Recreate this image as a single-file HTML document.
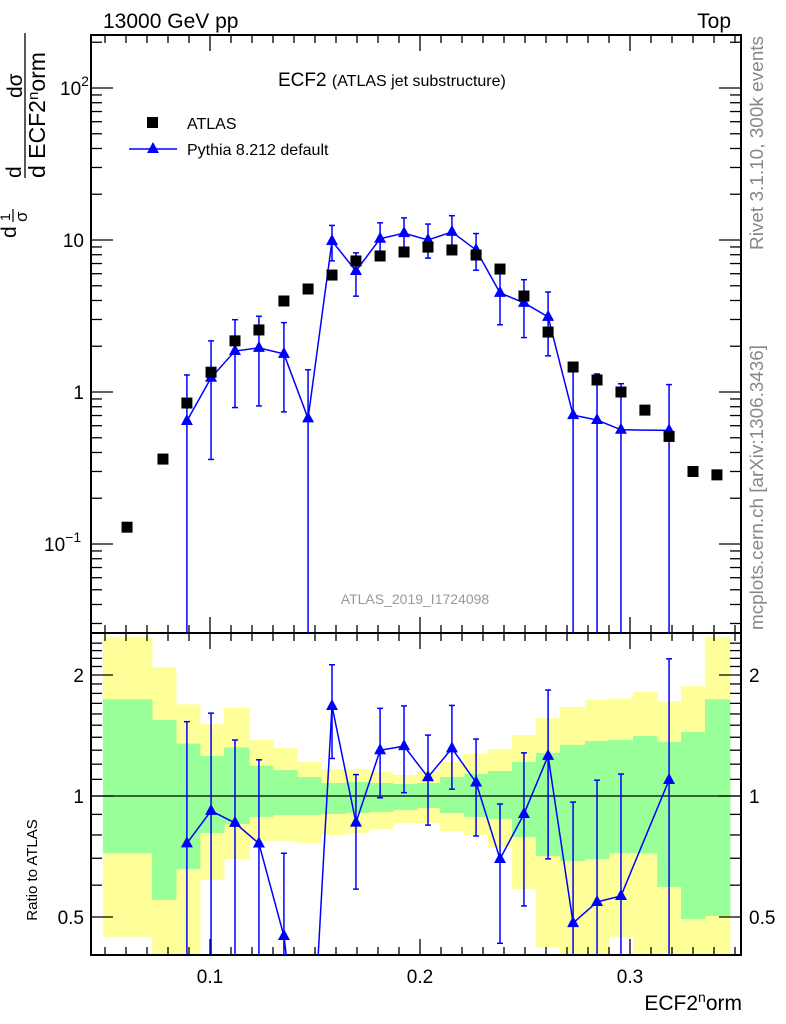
<!DOCTYPE html>
<html><head><meta charset="utf-8"><style>
html,body{margin:0;padding:0;background:#fff;overflow:hidden;width:786px;height:1024px;}
svg{display:block;font-family:"Liberation Sans",sans-serif;}
</style></head><body>
<svg id="chart" width="786" height="1024" viewBox="0 0 786 1024"></svg>
<script>
const binEdges=[0.0490,0.0724,0.0838,0.0952,0.1067,0.1186,0.1300,0.1414,0.1529,0.1643,0.1757,0.1871,0.1986,0.2095,0.2210,0.2324,0.2438,0.2552,0.2667,0.2786,0.2900,0.3014,0.3129,0.3243,0.3357,0.3476];
const atlasX=[0.0605,0.0776,0.0890,0.1005,0.1119,0.1233,0.1352,0.1467,0.1581,0.1695,0.1810,0.1924,0.2038,0.2152,0.2267,0.2381,0.2495,0.2610,0.2729,0.2843,0.2957,0.3071,0.3186,0.3300,0.3414];
const atlasY=[0.129,0.362,0.846,1.35,2.17,2.56,3.97,4.76,5.88,7.28,7.85,8.34,8.98,8.6,7.96,6.44,4.28,2.48,1.46,1.2,1.0,0.76,0.51,0.30,0.285];
const pythiaY=[null,null,0.645,1.24,1.86,1.95,1.78,0.67,9.85,6.25,10.2,11.1,10.0,11.3,8.6,4.49,3.86,3.12,0.705,0.654,0.564,null,0.559,null,null];
const pythiaErrUp=[0,0,0.65,0.93,1.13,1.2,1.08,0.73,2.62,1.98,2.77,2.87,2.73,3.15,2.43,1.66,1.62,1.43,0.705,0.66,0.57,0,0.56,0,0];
const pythiaErrDn=[0,0,0.645,0.88,1.07,1.14,1.04,0.67,2.56,1.98,2.43,2.6,2.4,2.36,2.27,1.72,1.58,1.39,0.705,0.654,0.564,0,0.559,0,0];
const bandYellowUp=[2.49,2.09,1.69,1.51,1.655,1.378,1.316,1.215,1.167,1.167,1.147,1.128,1.154,1.215,1.272,1.309,1.418,1.563,1.664,1.733,1.75,1.815,1.723,1.877,2.49];
const bandGreenUp=[1.74,1.545,1.35,1.257,1.32,1.188,1.16,1.115,1.077,1.083,1.077,1.071,1.077,1.115,1.134,1.154,1.215,1.28,1.34,1.37,1.378,1.41,1.362,1.443,1.74];
const bandGreenDn=[0.72,0.551,0.658,0.809,0.852,0.887,0.897,0.897,0.902,0.907,0.912,0.923,0.934,0.907,0.887,0.877,0.79,0.709,0.689,0.697,0.72,0.72,0.594,0.494,0.503];
const bandYellowDn=[0.446,0.3,0.3,0.618,0.697,0.773,0.773,0.764,0.8,0.809,0.828,0.857,0.857,0.818,0.8,0.747,0.587,0.42,0.3,0.3,0.446,0.3,0.3,0.3,0.3];
const xTickLabels=["0.1","0.2","0.3"];
const xTickVals=[0.1,0.2,0.3];

const NS="http://www.w3.org/2000/svg";
const svg=document.getElementById('chart');
const L=91,R=741,T1=35,B1=633,T2=633,B2=955;
const X=v=>v*2100;
const Ym=v=>392-152*Math.log10(v);
const Yr=v=>796-121*Math.log2(v);
function el(tag,attrs,parent){const e=document.createElementNS(NS,tag);for(const k in attrs)e.setAttribute(k,attrs[k]);(parent||svg).appendChild(e);return e;}
const defs=el('defs',{});
const c1=el('clipPath',{id:'c1'},defs);el('rect',{x:L,y:T1,width:R-L,height:B1-T1},c1);
const c2=el('clipPath',{id:'c2'},defs);el('rect',{x:L,y:T2,width:R-L,height:B2-T2},c2);

// ratio bands
const gBand=el('g',{'clip-path':'url(#c2)'});


for(let i=0;i<bandYellowUp.length;i++){
  const x0=X(binEdges[i]),x1=X(binEdges[i+1]);
  const ry=el('rect',{x:x0,y:Yr(bandYellowUp[i]),width:x1-x0+0.5,height:Yr(bandYellowDn[i])-Yr(bandYellowUp[i]),fill:'#ffff99'},gBand);
  
  
}
for(let i=0;i<bandGreenUp.length;i++){
  const x0=X(binEdges[i]),x1=X(binEdges[i+1]);
  const rg=el('rect',{x:x0,y:Yr(bandGreenUp[i]),width:x1-x0+0.5,height:Yr(bandGreenDn[i])-Yr(bandGreenUp[i]),fill:'#99ff99'},gBand);
  
  
}
el('line',{x1:L,x2:R,y1:Yr(1),y2:Yr(1),stroke:'#000','stroke-width':1.3});

// frames
const f1=el('rect',{x:L,y:T1,width:R-L,height:B1-T1,fill:'none',stroke:'#000','stroke-width':2});

const f2=el('rect',{x:L,y:T2,width:R-L,height:B2-T2,fill:'none',stroke:'#000','stroke-width':2});


// x ticks
for(let k=5;k<=35;k++){
  const v=k/100,x=X(v);if(x<L||x>R)continue;
  const big=(k%10===0);const len=big?16:8;
  [[T1,1],[B1,-1],[T2,1],[B2,-1]].forEach(([y,d])=>el('line',{x1:x,x2:x,y1:y,y2:y+d*len,stroke:'#000','stroke-width':1.3}));
}
xTickVals.forEach((v,i)=>{const t=el('text',{x:X(v),y:983,'font-size':19,'text-anchor':'middle'});t.textContent=xTickLabels[i];
});
const xt=el('text',{x:742,y:1010,'font-size':21,'text-anchor':'end'});xt.innerHTML='ECF2<tspan dy="-8" font-size="14">n</tspan><tspan dy="8">orm</tspan>';


// main y ticks (log)
for(let d=-2;d<=2;d++){for(let m=1;m<=9;m++){const v=m*Math.pow(10,d);const y=Ym(v);if(y<T1||y>B1)continue;
 const len=m===1?22:11;el('line',{x1:L,x2:L+len,y1:y,y2:y,stroke:'#000','stroke-width':1.3});el('line',{x1:R,x2:R-len,y1:y,y2:y,stroke:'#000','stroke-width':1.3});}}
[[100,'10<tspan dy="-9" font-size="14">2</tspan>'],[10,'10'],[1,'1'],[0.1,'10<tspan dy="-9" font-size="14">−1</tspan>']].forEach(([v,s])=>{
 const t=el('text',{x:v===100||v===0.1?62:84,y:Ym(v)+7,'font-size':19,'text-anchor':v===100||v===0.1?'start':'end'});t.innerHTML=s;
 if(v===100||v===0.1){t.setAttribute('x',v===100?60:44);}
 });
// ratio y ticks
for(let v=0.4;v<=2.5;v+=0.1){const y=Yr(v);if(y<T2||y>B2)continue;const big=Math.abs(v-0.5)<1e-6||Math.abs(v-1)<1e-6||Math.abs(v-2)<1e-6;const len=big?22:11;
 el('line',{x1:L,x2:L+len,y1:y,y2:y,stroke:'#000','stroke-width':1.3});el('line',{x1:R,x2:R-len,y1:y,y2:y,stroke:'#000','stroke-width':1.3});}
[[2,'2'],[1,'1'],[0.5,'0.5']].forEach(([v,s])=>{
 const a=el('text',{x:84,y:Yr(v)+7,'font-size':19,'text-anchor':'end'});a.textContent=s;
 const b=el('text',{x:749,y:Yr(v)+7,'font-size':19}); b.textContent=s;});

// texts
function txt(x,y,s,size,attrs,name){const t=el('text',Object.assign({x:x,y:y,'font-size':size},attrs||{}));t.innerHTML=s;return t;}
txt(103,28,'13000 GeV pp',21,{},'energy-label');
txt(731,28,'Top',21,{'text-anchor':'end'},'process-label');
txt(278,86,'ECF2 <tspan font-size="16">(ATLAS jet substructure)</tspan>',19,{},'plot-title');
txt(415,604,'ATLAS_2019_I1724098',14,{fill:'#999','text-anchor':'middle'},'analysis-id');
txt(0,0,'Rivet 3.1.10,  300k events',18,{fill:'#888',transform:'translate(763,250) rotate(-90)',textLength:214,lengthAdjust:'spacingAndGlyphs'},'rivet-label');
txt(0,0,'mcplots.cern.ch [arXiv:1306.3436]',18,{fill:'#888',transform:'translate(763,630) rotate(-90)',textLength:285,lengthAdjust:'spacingAndGlyphs'},'mcplots-label');
txt(0,0,'Ratio to ATLAS',15,{transform:'translate(37,870) rotate(-90)','text-anchor':'middle'},'ratio-y-title');
// y-axis title
txt(0,0,'dσ',21,{transform:'translate(22,98) rotate(-90)'},'y-title-dsigma');
const fl=el('line',{x1:25,x2:25,y1:33,y2:178,stroke:'#000','stroke-width':1.3});

txt(0,0,'d ECF2<tspan dy="-7" font-size="15">n</tspan><tspan dy="7">orm</tspan>',23,{transform:'translate(45,178) rotate(-90)'},'y-title-denominator');
txt(0,0,'d',21,{transform:'translate(21,178) rotate(-90)'},'y-title-d');
txt(0,0,'d',21,{transform:'translate(16,238) rotate(-90)'},'y-title-d2');
txt(0,0,'1',14,{transform:'translate(10,221) rotate(-90)'},'y-title-one');
el('line',{x1:13,x2:13,y1:209,y2:222,stroke:'#000','stroke-width':1.2});
txt(0,0,'σ',17,{transform:'translate(27,222) rotate(-90)'},'y-title-sigma');

// legend
const lg=el('g',{});
el('rect',{x:147,y:117,width:11,height:11,fill:'#000'},lg);
txt(187,129,'ATLAS',16,{},'legend-atlas');
el('line',{x1:129,x2:177,y1:149,y2:149,stroke:'#00f','stroke-width':1.5},lg);
el('polygon',{points:'153,142 159,153 147,153',fill:'#00f'},lg);
txt(187,155,'Pythia 8.212 default',16,{},'legend-pythia');

// main data
const gm=el('g',{'clip-path':'url(#c1)'});
let pts=[];
for(let i=0;i<pythiaY.length;i++){if(pythiaY[i]==null)continue;pts.push([X(atlasX[i]),Ym(pythiaY[i])]);}
const pl=el('polyline',{points:pts.map(p=>p.join(',')).join(' '),fill:'none',stroke:'#00f','stroke-width':1.5},gm);

for(let i=0;i<pythiaY.length;i++){if(pythiaY[i]==null)continue;const x=X(atlasX[i]),v=pythiaY[i];
 const lo=v-pythiaErrDn[i]>0?Ym(v-pythiaErrDn[i]):B1+10,hi=Ym(v+pythiaErrUp[i]);
 el('line',{x1:x,x2:x,y1:hi,y2:lo,stroke:'#00f','stroke-width':1.5},gm);
 el('line',{x1:x-3,x2:x+3,y1:hi,y2:hi,stroke:'#00f','stroke-width':1.5},gm);
 if(lo<B1)el('line',{x1:x-3,x2:x+3,y1:lo,y2:lo,stroke:'#00f','stroke-width':1.5},gm);
 const y=Ym(v);const m=el('polygon',{points:`${x},${y-7} ${x+6},${y+4} ${x-6},${y+4}`,fill:'#00f'},gm);
 }
for(let i=0;i<atlasY.length;i++){const x=X(atlasX[i]),y=Ym(atlasY[i]);
 const r=el('rect',{x:x-5.5,y:y-5.5,width:11,height:11,fill:'#000'},gm);
 }

// ratio data
const gr=el('g',{'clip-path':'url(#c2)'});
pts=[];
for(let i=0;i<pythiaY.length;i++){if(pythiaY[i]==null)continue;pts.push([X(atlasX[i]),Yr(pythiaY[i]/atlasY[i])]);}
const rl=el('polyline',{points:pts.map(p=>p.join(',')).join(' '),fill:'none',stroke:'#00f','stroke-width':1.5},gr);

for(let i=0;i<pythiaY.length;i++){if(pythiaY[i]==null)continue;const x=X(atlasX[i]),a=atlasY[i],v=pythiaY[i]/a;
 const dn=v-pythiaErrDn[i]/a;const lo=dn>0?Yr(dn):B2+10,hi=Yr(v+pythiaErrUp[i]/a);
 el('line',{x1:x,x2:x,y1:hi,y2:lo,stroke:'#00f','stroke-width':1.5},gr);
 el('line',{x1:x-3,x2:x+3,y1:hi,y2:hi,stroke:'#00f','stroke-width':1.5},gr);
 if(lo<B2)el('line',{x1:x-3,x2:x+3,y1:lo,y2:lo,stroke:'#00f','stroke-width':1.5},gr);
 const y=Yr(v);const m=el('polygon',{points:`${x},${y-7} ${x+6},${y+4} ${x-6},${y+4}`,fill:'#00f'},gr);
 }
</script>
</body></html>
